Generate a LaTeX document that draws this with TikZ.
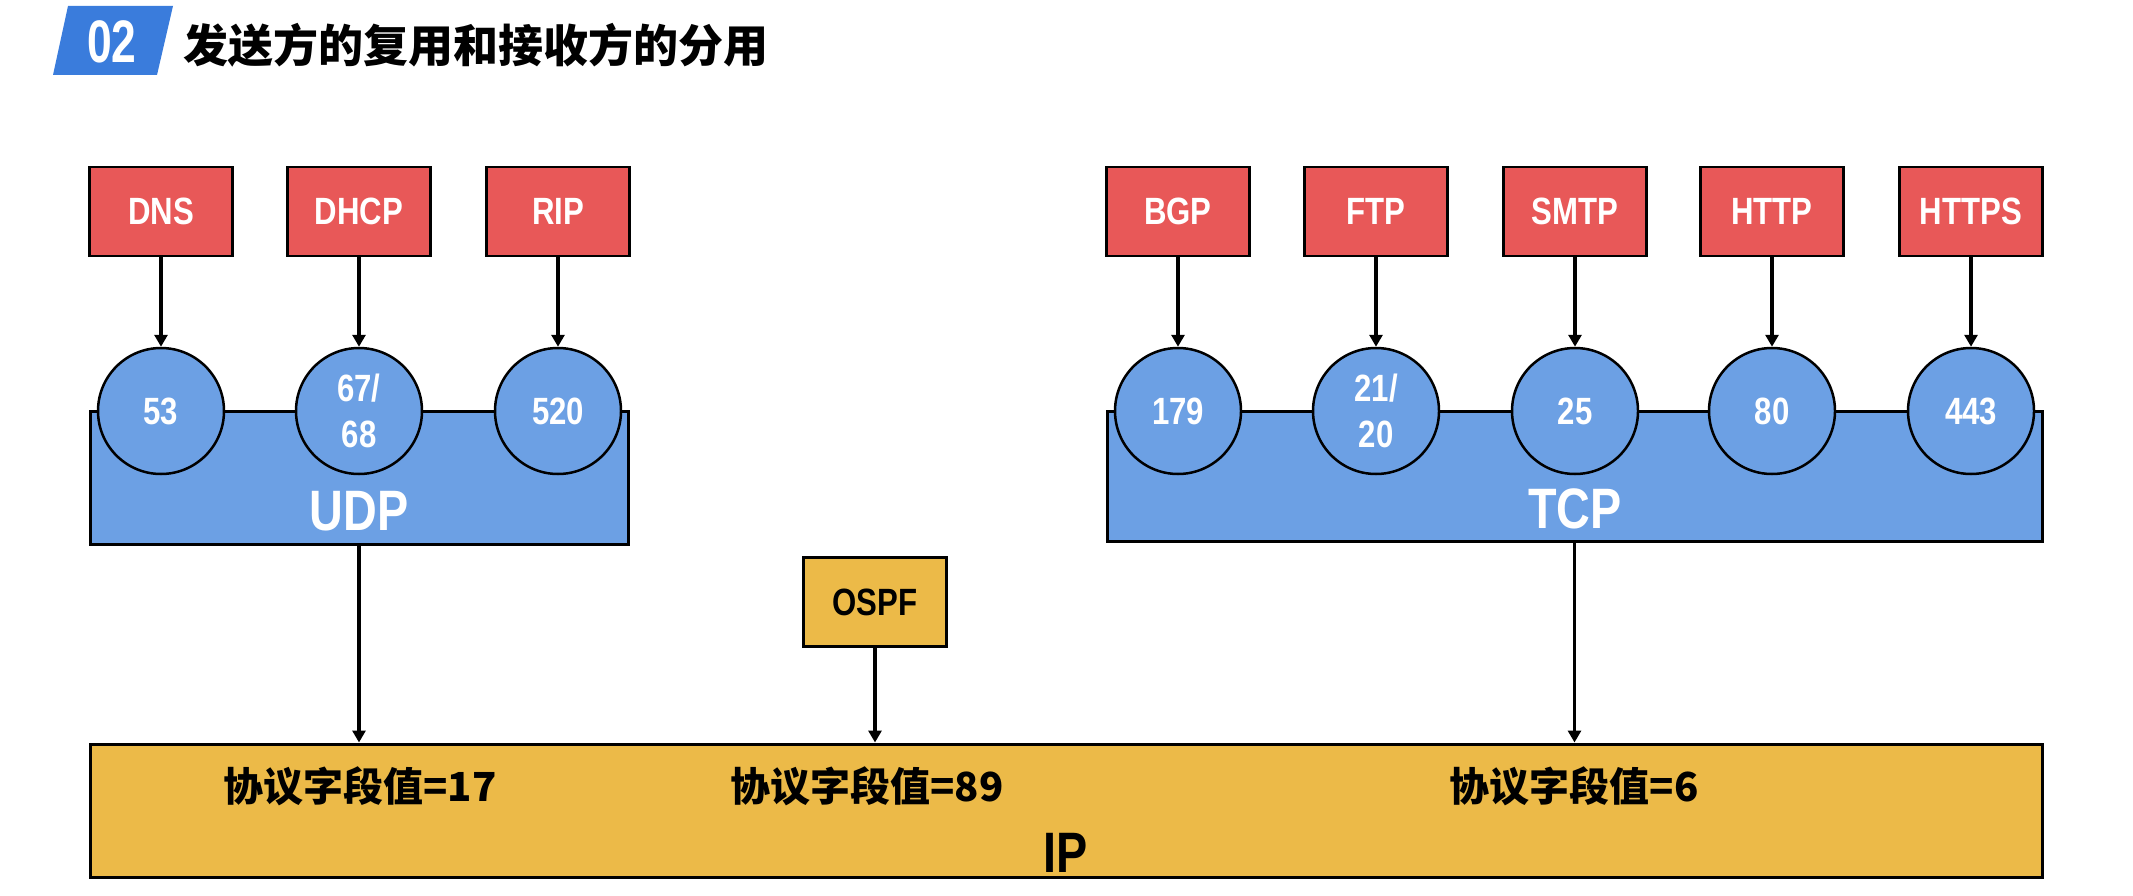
\documentclass[tikz,border=0pt]{standalone}
\usepackage{fontspec}
\usetikzlibrary{arrows.meta}
\newfontfamily\latn[FakeStretch=0.82]{Liberation Sans}
\newfontfamily\numfont[FakeStretch=0.74]{Liberation Sans}
\newfontfamily\cjk{Noto Sans CJK SC}
\definecolor{appred}{RGB}{232,88,88}
\definecolor{portblue}{RGB}{108,160,228}
\definecolor{ipyellow}{RGB}{236,186,72}
\definecolor{titleblue}{RGB}{58,124,220}
\tikzset{
  appbox/.style={draw=black, line width=2.5pt, fill=appred, minimum width=143pt, minimum height=89pt,
    inner sep=0pt, text=white, font=\latn\bfseries\fontsize{38}{40}\selectfont},
  port/.style={circle, draw=black, line width=2.5pt, fill=portblue, minimum size=126pt, inner sep=0pt,
    text=white, align=center, font=\latn\bfseries\fontsize{38}{46}\selectfont},
  layer/.style={draw=black, line width=3pt, fill=portblue, inner sep=0pt},
  layertext/.style={text=white, font=\latn\bfseries\fontsize{57}{60}\selectfont},
  iplayer/.style={draw=black, line width=3pt, fill=ipyellow, inner sep=0pt},
  ospfbox/.style={draw=black, line width=2.5pt, fill=ipyellow, minimum width=143pt, minimum height=89pt,
    inner sep=0pt, text=black, font=\latn\bfseries\fontsize{38}{40}\selectfont},
  fieldtext/.style={text=black, font=\cjk\bfseries\fontsize{40}{42}\selectfont},
  link/.style={line width=3.5pt, -{Triangle[length=12pt,width=13pt]}}
}
\begin{document}
\begin{tikzpicture}[x=1pt,y=-1pt]
\useasboundingbox (0,0) rectangle (2133,896);

% heading
\fill[titleblue] (68,6) -- (173,6) -- (157,75) -- (53,75) -- cycle;
\node[text=white, font=\numfont\bfseries\fontsize{60}{62}\selectfont] (num) at (112,42) {02};
\node[anchor=west, text=black, font=\cjk\bfseries\fontsize{45}{47}\selectfont] (heading) at (180,45) {发送方的复用和接收方的分用};

% transport layer blocks
\node[layer, minimum width=538pt, minimum height=133pt] (udp) at (359,477.5) {};
\node[layertext] (udptext) at (359,511) {UDP};
\node[layer, minimum width=935pt, minimum height=130pt] (tcp) at (1574.5,476) {};
\node[layertext] (tcptext) at (1575,509) {TCP};

% application protocols
\node[appbox] (dns)   at (161,211.5) {DNS};
\node[appbox] (dhcp)  at (359,211.5) {DHCP};
\node[appbox] (rip)   at (558,211.5) {RIP};
\node[appbox] (bgp)   at (1178,211.5) {BGP};
\node[appbox] (ftp)   at (1376,211.5) {FTP};
\node[appbox] (smtp)  at (1575,211.5) {SMTP};
\node[appbox] (http)  at (1772,211.5) {HTTP};
\node[appbox] (https) at (1971,211.5) {HTTPS};

% port numbers
\node[port] (p53)  at (161,411) {53};
\node[port] (p67)  at (359,411) {67/\\68};
\node[port] (p520) at (558,411) {520};
\node[port] (p179) at (1178,411) {179};
\node[port] (p21)  at (1376,411) {21/\\20};
\node[port] (p25)  at (1575,411) {25};
\node[port] (p80)  at (1772,411) {80};
\node[port] (p443) at (1971,411) {443};

\foreach \a/\p in {dns/p53, dhcp/p67, rip/p520, bgp/p179, ftp/p21, smtp/p25, http/p80, https/p443}
  \draw[link] (\a.south) -- (\p.north);

% network layer
\node[ospfbox] (ospf) at (875,602) {OSPF};
\node[iplayer, minimum width=1952pt, minimum height=133pt] (ip) at (1066,810.5) {};
\node[fieldtext] (f17) at (360,786) {协议字段值=17};
\node[fieldtext] (f89) at (867,786) {协议字段值=89};
\node[fieldtext] (f6)  at (1574,786) {协议字段值=6};
\node[text=black, font=\latn\bfseries\fontsize{57}{60}\selectfont] (iptext) at (1066,853) {IP};

\draw[link] (udp.south) -- (udp.south |- ip.north);
\draw[link] (ospf.south) -- (ospf.south |- ip.north);
\draw[link] (tcp.south) -- (tcp.south |- ip.north);
\end{tikzpicture}
\end{document}
